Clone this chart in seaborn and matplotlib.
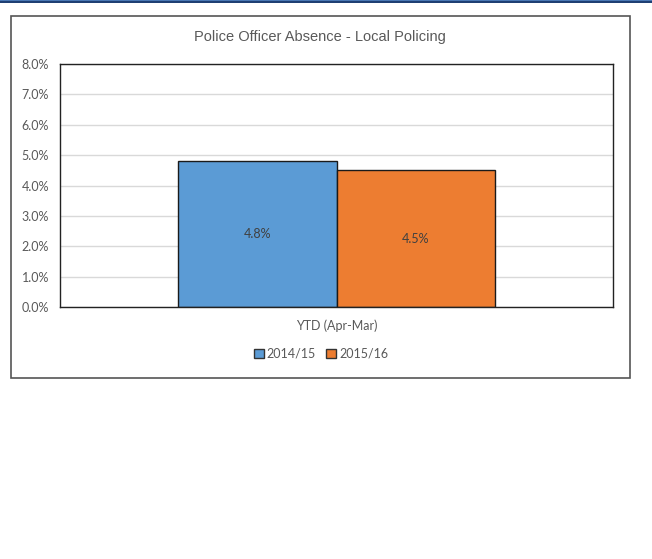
import matplotlib
matplotlib.use("Agg")
import matplotlib.pyplot as plt
from matplotlib.patches import Rectangle
from matplotlib.ticker import FuncFormatter
import seaborn as sns
import pandas as pd

categories = ["YTD (Apr-Mar)"]
periods = ["2014/15", "2015/16"]
absence_pct = [4.8, 4.5]
colors = ["#5b9bd5", "#ed7d31"]
yticks = [0, 1, 2, 3, 4, 5, 6, 7, 8]

df = pd.DataFrame({
    "category": categories * len(periods),
    "period": periods,
    "value": absence_pct,
})

sns.set_theme(style="white")
plt.rcParams["font.family"] = ["Lato", "DejaVu Sans"]

W, H = 652, 559
fig = plt.figure(figsize=(W / 100, H / 100), dpi=100)
fig.patch.set_facecolor("white")

# header rule along the top edge
fig.add_artist(Rectangle((0, 1 - 3 / H), 1, 3 / H, transform=fig.transFigure,
                         facecolor="#1f3f73", edgecolor="none"))
fig.add_artist(Rectangle((0, 1 - 1.2 / H), 1, 1.2 / H, transform=fig.transFigure,
                         facecolor="#4a78b5", edgecolor="none"))

# outer chart frame
fig.add_artist(Rectangle((11 / W, 1 - 378 / H), (630 - 11) / W, (378 - 16) / H,
                         transform=fig.transFigure, facecolor="none",
                         edgecolor="#555555", linewidth=1.2))

ax = fig.add_axes([60 / W, 1 - 307 / H, (613 - 60) / W, (307 - 64) / H])
sns.barplot(data=df, x="category", y="value", hue="period", palette=colors,
            width=0.573, edgecolor="#1a1a1a", linewidth=1.0, saturation=1,
            legend=True, ax=ax)

ax.set_xlim(-0.5, 0.5)
ax.set_ylim(0, 8)
ax.set_yticks(yticks)
ax.yaxis.set_major_formatter(FuncFormatter(lambda v, _: f"{v:.1f}%"))
ax.tick_params(axis="y", labelsize=9, colors="#595959", length=0, pad=8)
ax.tick_params(axis="x", labelsize=9, colors="#595959", length=0, pad=9)
ax.set_xlabel("")
ax.set_ylabel("")
ax.grid(axis="y", color="#d9d9d9", linewidth=1)
ax.set_axisbelow(True)
for s in ax.spines.values():
    s.set_color("#222222")
    s.set_linewidth(1.0)

for container in ax.containers:
    ax.bar_label(container, labels=[f"{v:.1f}%" for v in container.datavalues],
                 label_type="center", fontsize=9, color="#404040")

leg = ax.legend(loc="center", bbox_to_anchor=(321 / W, 1 - 354 / H),
                bbox_transform=fig.transFigure, ncol=2, frameon=False,
                fontsize=9, handlelength=0.8, handleheight=0.8,
                handletextpad=0.25, columnspacing=0.8, labelcolor="#595959")
for h in leg.legend_handles:
    h.set_edgecolor("#333333")
    h.set_linewidth(1.0)

fig.text(320 / W, 1 - 37 / H, "Police Officer Absence - Local Policing",
         ha="center", va="center", fontsize=10.5, color="#595959",
         family=["Liberation Sans", "DejaVu Sans"])

fig.savefig("out.png", dpi=100, facecolor="white")
